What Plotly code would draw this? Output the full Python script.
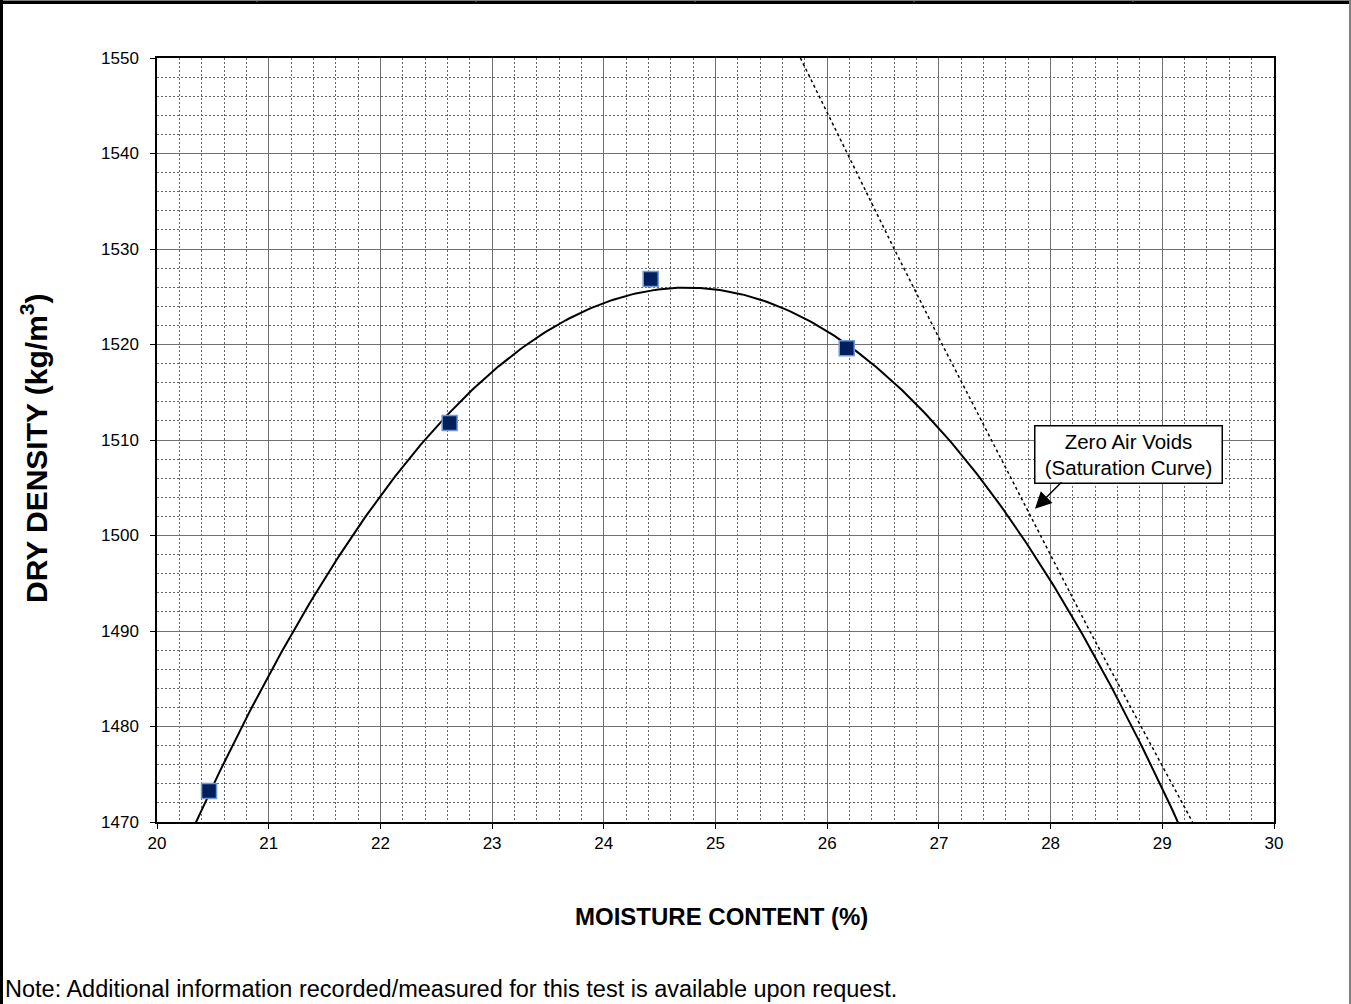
import numpy as np
import plotly.graph_objects as go

# ---- data ----
moisture = [20.466, 22.62, 24.42, 26.175]           # %
dry_density = [1473.25, 1511.78, 1526.86, 1519.6]   # kg/m3

# zero air voids (saturation) line
zav_density = [1550, 1540, 1530, 1520, 1510, 1500, 1490, 1480, 1470]
zav_moisture = [25.76, 26.18, 26.60, 27.03, 27.47, 27.91, 28.35, 28.81, 29.27]

x_ticks = [20, 21, 22, 23, 24, 25, 26, 27, 28, 29, 30]
y_ticks = [1470, 1480, 1490, 1500, 1510, 1520, 1530, 1540, 1550]

# 2nd-order polynomial trendline through the test points
coef = np.polyfit(moisture, dry_density, 2)
xs = np.linspace(20.0, 30.0, 400)
ys = np.polyval(coef, xs)

W, H = 1351, 1004
L, R, T, B = 157, 77, 58, 182
PW, PH = W - L - R, H - T - B

def px(x):
    return (x - L) / PW

def py(y):
    return (H - B - y) / PH

FONT = "Liberation Sans, Arial, sans-serif"

fig = go.Figure()
fig.add_trace(go.Scatter(x=zav_moisture, y=zav_density, mode="lines",
                         line=dict(color="black", width=1.5, dash="dot"),
                         showlegend=False, hoverinfo="skip"))
fig.add_trace(go.Scatter(x=xs, y=ys, mode="lines",
                         line=dict(color="black", width=2),
                         showlegend=False))
fig.add_trace(go.Scatter(x=moisture, y=dry_density, mode="markers",
                         marker=dict(symbol="square", size=15, color="#001f5c",
                                     line=dict(color="#6f9ad6", width=1.5)),
                         showlegend=False))

axis_common = dict(
    showline=True, linecolor="black", linewidth=1.5, mirror=True,
    ticks="outside", ticklen=5, tickcolor="black", tickwidth=1,
    showgrid=True, gridcolor="#707070", gridwidth=1,
    tickfont=dict(family=FONT, size=17, color="black"),
    zeroline=False,
)

fig.update_xaxes(range=[20, 30], tickvals=x_ticks, ticktext=[str(v) for v in x_ticks],
                 minor=dict(dtick=0.2, showgrid=True, gridcolor="#666666",
                            griddash="2px,2px", gridwidth=1, ticks=""),
                 **axis_common)
fig.update_yaxes(range=[1470, 1550], tickvals=y_ticks, ticktext=[str(v) for v in y_ticks],
                 ticklabelstandoff=8,
                 minor=dict(dtick=2, showgrid=True, gridcolor="#666666",
                            griddash="2px,2px", gridwidth=1, ticks=""),
                 **axis_common)

annotations = [
    dict(text="<b>DRY DENSITY (kg/m<sup>3</sup>)</b>", xref="paper", yref="paper",
         x=px(34), y=py(448), textangle=-90, showarrow=False,
         xanchor="center", yanchor="middle",
         font=dict(family=FONT, size=30, color="black")),
    dict(text="<b>MOISTURE CONTENT (%)</b>", xref="paper", yref="paper",
         x=px(721), y=py(916), showarrow=False, xanchor="center", yanchor="middle",
         font=dict(family=FONT, size=24, color="black")),
    dict(text="Note: Additional information recorded/measured for this test is available upon request.",
         xref="paper", yref="paper", x=px(3), y=py(989), showarrow=False,
         xanchor="left", yanchor="middle",
         font=dict(family=FONT, size=23.5, color="black")),
    dict(text="Zero Air Voids<br>(Saturation Curve)", xref="x", yref="y",
         x=28.70, y=1508.5, showarrow=False, xanchor="center", yanchor="middle",
         width=180, height=50,
         bordercolor="black", borderwidth=1.5, borderpad=3, bgcolor="white",
         font=dict(family=FONT, size=20.5, color="black")),
    dict(text="", xref="x", yref="y", x=27.86, y=1502.8,
         showarrow=True, ax=28, ay=-28, axref="pixel", ayref="pixel",
         arrowhead=2, arrowsize=2.2, arrowwidth=1.5, arrowcolor="black"),
]

shapes = [
    # page frame
    dict(type="line", xref="paper", yref="paper", x0=px(0), x1=px(W), y0=py(0.5), y1=py(0.5),
         line=dict(color="#808080", width=1)),
    dict(type="line", xref="paper", yref="paper", x0=px(0), x1=px(W), y0=py(2.5), y1=py(2.5),
         line=dict(color="black", width=3)),
    dict(type="line", xref="paper", yref="paper", x0=px(1.5), x1=px(1.5), y0=py(0), y1=py(H),
         line=dict(color="black", width=3)),
    dict(type="line", xref="paper", yref="paper", x0=px(1350), x1=px(1350), y0=py(0), y1=py(H),
         line=dict(color="#808080", width=2)),
]
for cx in [257, 476, 695, 914, 1133]:
    shapes.append(dict(type="line", xref="paper", yref="paper", x0=px(cx), x1=px(cx),
                       y0=py(0), y1=py(2), line=dict(color="#808080", width=1)))

fig.update_layout(
    width=W, height=H,
    margin=dict(l=L, r=R, t=T, b=B, autoexpand=False),
    paper_bgcolor="white", plot_bgcolor="white",
    font=dict(family=FONT, color="black"),
    annotations=annotations, shapes=shapes,
    showlegend=False,
)

fig.write_html("out.html", config={"displayModeBar": False},
               post_script="document.body.style.margin='0';document.body.style.overflow='hidden';")
